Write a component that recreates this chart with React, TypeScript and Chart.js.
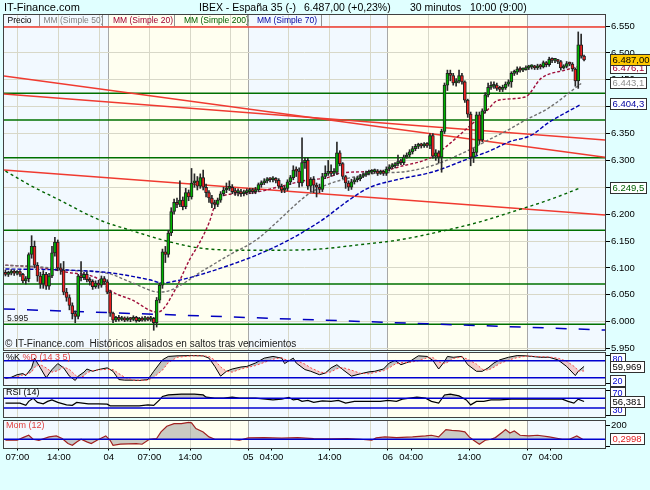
import React, { useEffect, useRef } from "react";
import { Chart, registerables } from "chart.js";

Chart.register(...registerables);

// ---------------- data ----------------
// 30-minute candles: [open, high, low, close]
const ohlc: number[][] = [
  [6092, 6096, 6085, 6088], [6088, 6094, 6084, 6090], [6090, 6097, 6087, 6094], [6094, 6096, 6086, 6090],
  [6090, 6095, 6087, 6093], [6093, 6095, 6084, 6088], [6088, 6090, 6072, 6076], [6076, 6084, 6070, 6080],
  [6080, 6128, 6074, 6125], [6125, 6160, 6118, 6140], [6140, 6150, 6100, 6105], [6105, 6110, 6075, 6085],
  [6085, 6092, 6062, 6070], [6070, 6095, 6062, 6088], [6088, 6092, 6060, 6066], [6066, 6090, 6060, 6085],
  [6085, 6140, 6082, 6128], [6128, 6157, 6122, 6148], [6148, 6152, 6095, 6100], [6100, 6108, 6088, 6096],
  [6096, 6112, 6050, 6055], [6055, 6062, 6038, 6045], [6045, 6050, 6022, 6030], [6030, 6035, 6005, 6015],
  [6015, 6020, 5998, 6010], [6010, 6088, 6005, 6085], [6085, 6112, 6076, 6082], [6082, 6092, 6078, 6088],
  [6088, 6092, 6074, 6078], [6078, 6082, 6068, 6075], [6075, 6078, 6060, 6065], [6065, 6076, 6062, 6072],
  [6072, 6077, 6062, 6068], [6068, 6085, 6064, 6080], [6080, 6084, 6070, 6074], [6074, 6078, 6052, 6055],
  [6055, 6058, 6010, 6016], [6016, 6018, 5998, 6003], [6003, 6010, 6000, 6008], [6008, 6012, 6001, 6004],
  [6004, 6010, 6002, 6007], [6007, 6009, 6000, 6003], [6003, 6009, 6001, 6006], [6006, 6008, 6000, 6004],
  [6004, 6011, 6002, 6008], [6008, 6010, 5999, 6002], [6002, 6008, 6000, 6006], [6006, 6009, 6001, 6003],
  [6003, 6010, 6001, 6007], [6007, 6009, 6002, 6004], [6004, 6010, 6001, 6006], [6006, 6008, 5984, 5998],
  [5998, 6045, 5990, 6040], [6040, 6072, 6035, 6068], [6068, 6135, 6062, 6130], [6130, 6140, 6110, 6125],
  [6125, 6170, 6120, 6165], [6165, 6212, 6160, 6205], [6205, 6228, 6200, 6222], [6222, 6230, 6212, 6218],
  [6218, 6262, 6214, 6226], [6226, 6232, 6208, 6214], [6214, 6248, 6210, 6240], [6240, 6245, 6225, 6232],
  [6232, 6285, 6228, 6258], [6258, 6275, 6250, 6262], [6262, 6270, 6245, 6252], [6252, 6275, 6248, 6268],
  [6268, 6282, 6245, 6250], [6250, 6256, 6232, 6240], [6240, 6244, 6222, 6230], [6230, 6235, 6212, 6220],
  [6220, 6226, 6210, 6218], [6218, 6230, 6214, 6226], [6226, 6242, 6222, 6238], [6238, 6250, 6234, 6245],
  [6245, 6258, 6240, 6248], [6248, 6262, 6244, 6250], [6250, 6255, 6238, 6242], [6242, 6248, 6235, 6240],
  [6240, 6247, 6234, 6242], [6242, 6246, 6233, 6238], [6238, 6245, 6234, 6240], [6240, 6247, 6236, 6242],
  [6242, 6248, 6238, 6244], [6244, 6248, 6238, 6242], [6242, 6250, 6238, 6245], [6245, 6258, 6242, 6255],
  [6255, 6262, 6250, 6258], [6258, 6266, 6255, 6262], [6262, 6268, 6258, 6265], [6265, 6268, 6260, 6264],
  [6264, 6270, 6260, 6266], [6266, 6268, 6258, 6263], [6263, 6266, 6248, 6252], [6252, 6256, 6240, 6245],
  [6245, 6252, 6240, 6248], [6248, 6264, 6244, 6260], [6260, 6272, 6255, 6268], [6268, 6290, 6264, 6282],
  [6282, 6288, 6270, 6280], [6280, 6286, 6250, 6258], [6258, 6342, 6252, 6296], [6296, 6305, 6285, 6300],
  [6300, 6305, 6246, 6252], [6252, 6268, 6242, 6265], [6265, 6270, 6240, 6254], [6254, 6258, 6232, 6250],
  [6250, 6256, 6240, 6246], [6246, 6276, 6242, 6270], [6270, 6290, 6266, 6276], [6276, 6300, 6272, 6278],
  [6278, 6292, 6270, 6276], [6276, 6285, 6272, 6278], [6278, 6334, 6274, 6314], [6314, 6318, 6290, 6294],
  [6294, 6296, 6266, 6270], [6270, 6272, 6248, 6258], [6258, 6262, 6244, 6250], [6250, 6265, 6246, 6260],
  [6260, 6268, 6256, 6264], [6264, 6270, 6260, 6266], [6266, 6274, 6262, 6270], [6270, 6277, 6268, 6273],
  [6273, 6280, 6270, 6276], [6276, 6282, 6273, 6278], [6278, 6283, 6275, 6279], [6279, 6284, 6276, 6280],
  [6280, 6283, 6272, 6276], [6276, 6282, 6274, 6278], [6278, 6282, 6272, 6276], [6276, 6288, 6272, 6284],
  [6284, 6292, 6280, 6288], [6288, 6294, 6285, 6290], [6290, 6296, 6286, 6294], [6294, 6310, 6290, 6298],
  [6298, 6302, 6292, 6296], [6296, 6310, 6292, 6306], [6306, 6314, 6304, 6310], [6310, 6320, 6306, 6316],
  [6316, 6326, 6312, 6322], [6322, 6330, 6318, 6326], [6326, 6332, 6322, 6328], [6328, 6332, 6323, 6327],
  [6327, 6333, 6324, 6329], [6329, 6333, 6324, 6328], [6328, 6350, 6322, 6346], [6346, 6350, 6304, 6308],
  [6308, 6320, 6300, 6314], [6314, 6318, 6295, 6306], [6306, 6358, 6278, 6354], [6354, 6444, 6350, 6440],
  [6440, 6468, 6430, 6462], [6462, 6468, 6448, 6458], [6458, 6462, 6440, 6444], [6444, 6452, 6438, 6448],
  [6448, 6468, 6444, 6458], [6458, 6462, 6442, 6446], [6446, 6448, 6408, 6412], [6412, 6414, 6380, 6386],
  [6386, 6390, 6290, 6306], [6306, 6322, 6296, 6315], [6315, 6390, 6310, 6385], [6385, 6390, 6330, 6338],
  [6338, 6396, 6335, 6392], [6392, 6426, 6388, 6422], [6422, 6444, 6418, 6436], [6436, 6446, 6432, 6438],
  [6438, 6446, 6434, 6440], [6440, 6444, 6430, 6434], [6434, 6438, 6428, 6432], [6432, 6440, 6428, 6435],
  [6435, 6446, 6432, 6442], [6442, 6450, 6438, 6446], [6446, 6465, 6436, 6462], [6462, 6468, 6458, 6464],
  [6464, 6474, 6460, 6470], [6470, 6474, 6464, 6468], [6468, 6472, 6465, 6469], [6469, 6476, 6468, 6472],
  [6472, 6477, 6469, 6474], [6474, 6478, 6470, 6474], [6474, 6477, 6469, 6472], [6472, 6479, 6469, 6476],
  [6476, 6479, 6470, 6474], [6474, 6485, 6472, 6482], [6482, 6484, 6474, 6478], [6478, 6492, 6475, 6488],
  [6488, 6491, 6482, 6486], [6486, 6489, 6482, 6486], [6486, 6488, 6480, 6484], [6484, 6486, 6468, 6472],
  [6472, 6478, 6470, 6475], [6475, 6484, 6472, 6480], [6480, 6483, 6476, 6479], [6479, 6482, 6466, 6470],
  [6470, 6472, 6438, 6448], [6448, 6539, 6434, 6515], [6515, 6535, 6490, 6494], [6494, 6496, 6485, 6487],
];

// moving averages (x = candle index)
const ma50Idx = [0, 11.8, 21.1, 35.8, 43.7, 53, 57.1, 61.5, 66.7, 70.1, 77, 86.2, 94.1, 99.2, 104.4, 110.2, 118.1, 129.4, 135.3, 146.6, 158.2, 166.1, 173, 178.8, 186.7, 198];
const ma50 = [6105, 6102, 6096, 6089, 6072, 6055, 6059, 6072, 6091, 6102, 6124, 6152, 6189, 6215, 6238, 6254, 6267, 6277, 6278, 6290, 6316, 6338, 6357, 6375, 6397, 6443.1];
const ma20Idx = [0, 9.4, 21.1, 32.4, 35.8, 43.7, 52, 54, 58.8, 63.3, 66.7, 70.1, 72.5, 76, 83.8, 94.1, 104.4, 110.2, 115.7, 129.4, 135.3, 146.6, 151.4, 158.2, 165.1, 169.5, 178.8, 184.3, 192.5, 198];
const ma20 = [6105, 6102, 6092, 6078, 6059, 6040, 6018, 6022, 6064, 6115, 6146, 6185, 6223, 6236, 6239, 6251, 6264, 6267, 6277, 6280, 6288, 6306, 6325, 6357, 6390, 6412, 6418, 6453, 6468, 6476.1];
const ma200Idx = [0, 8.4, 18.7, 32.4, 43.7, 55.4, 66.7, 80.4, 94.1, 107.8, 121.5, 135.3, 149, 162.7, 176.4, 186.7, 198];
const ma200 = [6280, 6254, 6226, 6189, 6169, 6150, 6137, 6133, 6133, 6135, 6143, 6152, 6167, 6185, 6208, 6226, 6249.5];
const ma70Idx = [0, 21.1, 35.8, 49.5, 54, 58.8, 66.7, 77, 87.3, 97.5, 108.9, 118.1, 125, 135.3, 146.6, 158.2, 167.1, 173, 180.9, 186.7, 198];
const ma70 = [6098, 6096, 6091, 6078, 6072, 6076, 6087, 6105, 6126, 6152, 6189, 6226, 6249, 6265, 6278, 6301, 6319, 6334, 6347, 6370, 6404.3];

// horizontal levels and trend lines (start value, end value)
const levels = [6425, 6375, 6305, 6170, 6070, 5995];
const trendStart = [6548, 6457, 6423.5, 6282];
const trendEnd = [6548, 6306, 6338, 6198.5];
const guideLine = [6023.6, 5984.5];

// stochastic %K / %D
const stochIdx = [0, 2, 4, 6, 7, 9, 10, 12, 14, 16, 18, 20, 22, 24, 25, 27, 28, 30, 32, 35, 37, 39, 41, 44, 46, 49, 51, 54, 56, 59, 64, 68, 70, 72, 74, 76, 78, 81, 83, 86, 89, 92, 95, 96, 98, 99, 100, 103, 105, 108, 110, 112, 114, 116, 119, 122, 125, 127, 130, 132, 134, 136, 139, 142, 145, 147, 149, 151, 152, 154, 157, 159, 162, 164, 166, 168, 170, 173, 176, 179, 181, 184, 187, 190, 193, 196, 197, 199];
const stochK = [18, 22, 31, 35, 28, 55, 89, 55, 20, 49, 70, 55, 26, 11, 26, 40, 51, 43, 49, 55, 43, 14, 12, 12, 11, 14, 43, 83, 95, 97, 98, 97, 89, 60, 26, 43, 51, 58, 60, 72, 89, 95, 89, 70, 83, 89, 72, 49, 43, 31, 37, 55, 66, 49, 26, 34, 41, 43, 51, 72, 81, 66, 77, 97, 95, 81, 51, 77, 95, 92, 95, 66, 43, 43, 55, 72, 83, 92, 98, 97, 95, 92, 92, 83, 60, 28, 43, 59.969];
const stochD = [20, 20, 24, 30, 32, 40, 57, 66, 55, 40, 45, 58, 50, 30, 21, 26, 38, 45, 48, 50, 49, 35, 22, 12, 12, 12, 22, 47, 73, 92, 97, 97, 95, 82, 58, 43, 40, 51, 56, 63, 74, 85, 91, 85, 80, 81, 81, 68, 55, 41, 37, 41, 52, 56, 47, 36, 34, 39, 45, 55, 68, 73, 74, 80, 90, 91, 76, 70, 74, 88, 93, 85, 68, 50, 47, 57, 70, 82, 91, 96, 96, 94, 93, 89, 78, 57, 44, 44];

// RSI (14)
const rsiIdx = [0, 5, 7, 8, 9.5, 11, 13, 14.5, 16, 18, 21, 23, 24.5, 26.5, 28.5, 32, 35, 36, 39, 46, 49, 51, 53, 54, 56, 60.5, 65, 68, 69, 72, 75, 78, 80.5, 86, 92, 95, 97.5, 99, 100.5, 102, 104, 106, 109, 112, 114.5, 117, 120, 124.5, 129, 131.5, 134.5, 136.5, 139, 141.5, 144.5, 146.5, 149, 151, 153, 156, 158.5, 160, 162, 164.5, 167, 170, 174, 178.5, 183, 187, 191.5, 193.5, 195.5, 197, 199];
const rsi = [50, 50, 41, 57, 70, 53, 47, 57, 63, 53, 43, 41, 53, 50, 47, 47, 46, 39, 39, 39, 43, 41, 63, 77, 83, 86, 86, 83, 74, 70, 70, 74, 70, 70, 63, 66, 73, 63, 66, 57, 61, 53, 59, 57, 61, 50, 57, 57, 57, 61, 57, 66, 70, 74, 70, 57, 50, 83, 86, 79, 63, 43, 57, 57, 63, 63, 66, 66, 66, 66, 66, 57, 50, 66, 56.381];

// Momentum (12)
const momIdx = [0, 4, 6, 8, 9.5, 11.5, 15, 17.5, 19.5, 21.5, 23, 24.5, 26, 28, 29.5, 31.5, 34.5, 36, 37, 39.5, 45, 47, 49.5, 52, 53.5, 55.5, 58, 60.5, 63, 64, 65.5, 68, 70, 72, 75, 77.5, 80.5, 83.5, 89, 95, 100.5, 106, 112, 117.5, 122, 126, 127.5, 130.5, 134.5, 140, 144.5, 146.5, 149, 151.5, 153.5, 156, 158, 159.5, 161, 163, 165, 167, 168.5, 171, 172, 173.5, 175, 177, 180, 183, 187, 191.5, 194, 196.5, 198.5];
const mom = [-15, -15, 24, 58, 0, -15, 34, 49, 10, -63, -88, -39, 0, -39, -63, -15, 49, -15, -88, -73, -63, -73, 0, 10, 107, 190, 229, 229, 248, 239, 156, 107, 34, 0, 0, 0, -15, 19, 24, 15, 24, 10, 5, 10, 0, -15, 19, 34, 24, 34, 49, 58, 34, 141, 131, 122, 107, 34, -15, -73, -15, 0, 24, 107, 141, 92, 122, 58, 49, 58, 34, 0, 0, 49, 0.2998];

// axes
const priceTicks = [5950, 5975, 6000, 6025, 6050, 6075, 6100, 6125, 6150, 6175, 6200, 6225, 6250, 6275, 6300, 6325, 6350, 6375, 6400, 6425, 6450, 6475, 6500, 6525, 6550];
const dayBounds = [35.5, 83.5, 131.5, 179.5];
const gridTicks = [4.1, 18.4, 32.4, 49.5, 63.5, 77.5, 97.5, 111.5, 125.5, 145.5, 159.5, 173.5, 193.5];
const labelTicks = [4.1, 18.4, 35.5, 49.5, 63.5, 83.5, 91.5, 111.5, 131.5, 139.5, 159.5, 179.5, 187.5];
const labelTexts = ["07:00", "14:00", "04", "07:00", "14:00", "05", "04:00", "14:00", "06", "04:00", "14:00", "07", "04:00"];

// ---------------- styling ----------------
const W = 650, H = 490;
const X_MIN = -0.5, X_MAX = 206.2;
const FONT = "'Liberation Sans', Arial, sans-serif";
const BG_PAGE = "#e0ffff";
const BG_BLUE = "#f2f9ff";
const BG_YELLOW = "#fffff0";
const GRID = "#d8d8c8";
const DAYLINE = "#a8a8a8";
const NONE = "rgba(0,0,0,0)";

const isIn = (arr: number[], v: number) => arr.some((a) => Math.abs(a - v) < 1e-6);
const allXTicks = Array.from(new Set([...gridTicks, ...dayBounds, ...labelTicks])).sort((a, b) => a - b);

function fmt(v: number, d: number) {
  const [ip, dp] = v.toFixed(d).split(".");
  const neg = ip.startsWith("-");
  let s = neg ? ip.slice(1) : ip;
  s = s.replace(/\B(?=(\d{3})+(?!\d))/g, ".");
  return (neg ? "-" : "") + s + (dp !== undefined ? "," + dp : "");
}

const pts = (xs: number[], ys: number[]) => xs.map((x, k) => ({ x, y: ys[k] }));

function xAxis(withLabels: boolean, height: number) {
  return {
    type: "linear",
    min: X_MIN,
    max: X_MAX,
    offset: false,
    afterBuildTicks: (s: any) => {
      s.ticks = allXTicks.map((v) => ({ value: v }));
    },
    afterFit: (s: any) => {
      s.height = height;
    },
    grid: {
      offset: false,
      drawTicks: withLabels,
      tickLength: 3,
      lineWidth: 1,
      color: (c: any) => {
        const v = c.tick ? c.tick.value : NaN;
        if (isIn(dayBounds, v)) return DAYLINE;
        if (isIn(gridTicks, v)) return GRID;
        return NONE;
      },
      tickColor: (c: any) => (c.tick && isIn(labelTicks, c.tick.value) ? "#000" : NONE),
    },
    border: { display: false },
    ticks: {
      display: withLabels,
      autoSkip: false,
      maxRotation: 0,
      minRotation: 0,
      padding: 1,
      color: "#000",
      font: { family: FONT, size: 9.5 },
      callback: (v: number) => {
        const k = labelTicks.findIndex((t) => Math.abs(t - v) < 1e-6);
        return k >= 0 ? labelTexts[k] : "";
      },
    },
  };
}

function subYAxis(min: number, max: number, tickVals: number[], labeled: number[]) {
  return {
    type: "linear",
    position: "right",
    min,
    max,
    afterBuildTicks: (s: any) => {
      s.ticks = tickVals.map((v) => ({ value: v }));
    },
    afterFit: (s: any) => {
      s.width = 45;
    },
    grid: { drawOnChartArea: false, drawTicks: true, tickLength: 5, tickColor: "#000" },
    border: { display: true, color: "#000" },
    ticks: {
      padding: 1,
      color: "#000",
      font: { family: FONT, size: 9.5 },
      callback: (v: number) => (isIn(labeled, v) ? String(v) : ""),
    },
  };
}

const panelPlugin = {
  id: "panel",
  beforeDraw(chart: any) {
    const { ctx, chartArea: a, scales } = chart;
    const x = scales.x;
    const edges = [X_MIN, ...dayBounds, X_MAX];
    ctx.save();
    for (let k = 0; k < edges.length - 1; k++) {
      const x0 = x.getPixelForValue(edges[k]);
      const x1 = x.getPixelForValue(edges[k + 1]);
      ctx.fillStyle = k % 2 === 0 ? BG_BLUE : BG_YELLOW;
      ctx.fillRect(x0, a.top, x1 - x0, a.bottom - a.top);
    }
    ctx.restore();
  },
  afterDraw(chart: any) {
    const { ctx, chartArea: a } = chart;
    ctx.save();
    ctx.strokeStyle = "#404040";
    ctx.lineWidth = 1;
    ctx.strokeRect(Math.round(a.left) - 0.5, Math.round(a.top) - 0.5, Math.round(a.right - a.left) + 1, Math.round(a.bottom - a.top) + 1);
    ctx.restore();
  },
};

function text(ctx: any, s: string, x: number, y: number, color: string, size: number, align = "left", weight = "normal") {
  ctx.font = `${weight} ${size}px ${FONT}`;
  ctx.fillStyle = color;
  ctx.textAlign = align;
  ctx.textBaseline = "middle";
  ctx.fillText(s, x, y);
}

function valueBox(ctx: any, s: string, x: number, y: number, color: string, bg: string, size = 9.5) {
  ctx.font = `normal ${size}px ${FONT}`;
  const w = Math.ceil(ctx.measureText(s).width) + 5;
  const h = 12;
  const top = Math.round(y - h / 2);
  ctx.fillStyle = bg;
  ctx.fillRect(x, top, w, h);
  ctx.strokeStyle = "#303030";
  ctx.lineWidth = 1;
  ctx.strokeRect(x + 0.5, top + 0.5, w - 1, h - 1);
  text(ctx, s, x + 2.5, top + h / 2 + 0.5, color, size);
}

const last = (a: number[]) => a[a.length - 1];

// ---------------- chart configs ----------------
function baseOptions(padding: any, scales: any) {
  return {
    responsive: false,
    maintainAspectRatio: false,
    animation: false,
    devicePixelRatio: 1,
    events: [],
    layout: { padding },
    plugins: { legend: { display: false }, tooltip: { enabled: false }, title: { display: false } },
    scales,
  };
}

function mainConfig(): any {
  const lineBase = { type: "line", pointRadius: 0, fill: false, order: 5 };
  const datasets: any[] = [];
  levels.forEach((v) =>
    datasets.push({ ...lineBase, data: [{ x: X_MIN, y: v }, { x: X_MAX, y: v }], borderColor: "#007000", borderWidth: 1.5, order: 9 })
  );
  trendStart.forEach((v, k) =>
    datasets.push({ ...lineBase, data: [{ x: X_MIN, y: v }, { x: X_MAX, y: trendEnd[k] }], borderColor: "#f03a30", borderWidth: 1.5, order: 8 })
  );
  datasets.push({ ...lineBase, data: [{ x: X_MIN, y: guideLine[0] }, { x: X_MAX, y: guideLine[1] }], borderColor: "#0000c0", borderWidth: 1.5, borderDash: [11, 12], order: 8 });
  const maStyle = { ...lineBase, borderWidth: 1.4, cubicInterpolationMode: "monotone", order: 4 };
  datasets.push({ ...maStyle, data: pts(ma200Idx, ma200), borderColor: "#006400", borderDash: [3, 3] });
  datasets.push({ ...maStyle, data: pts(ma70Idx, ma70), borderColor: "#0000b0", borderDash: [4, 2] });
  datasets.push({ ...maStyle, data: pts(ma50Idx, ma50), borderColor: "#707070", borderDash: [3, 2] });
  datasets.push({ ...maStyle, data: pts(ma20Idx, ma20), borderColor: "#a0103c", borderDash: [3, 2] });
  datasets.push({
    type: "bar",
    data: ohlc.map((r, i) => ({ x: i, y: [r[2], r[1]] })),
    backgroundColor: "#282828",
    borderWidth: 0,
    barThickness: 1,
    grouped: false,
    order: 2,
  });
  datasets.push({
    type: "bar",
    data: ohlc.map((r, i) => ({ x: i, y: [Math.min(r[0], r[3]), Math.max(r[0], r[3])] })),
    backgroundColor: ohlc.map((r) => (r[3] >= r[0] ? "#00b400" : "#f02020")),
    borderColor: "#202020",
    borderWidth: 1,
    borderSkipped: false,
    barThickness: 3,
    minBarLength: 2,
    grouped: false,
    order: 1,
  });

  const textPlugin = {
    id: "mainText",
    afterDraw(chart: any) {
      const { ctx } = chart;
      const y = chart.scales.y;
      ctx.save();
      // title row
      text(ctx, "IT-Finance.com", 4, 8, "#000", 11);
      text(ctx, "IBEX - España 35 (-)", 199, 8, "#000", 10.5);
      text(ctx, "6.487,00 (+0,23%)", 304, 8, "#000", 10.5);
      text(ctx, "30 minutos", 410, 8, "#000", 10.5);
      text(ctx, "10:00 (9:00)", 470, 8, "#000", 10.5);
      // legend row
      const legend: [string, number, string][] = [
        ["Precio", 7.5, "#000"],
        ["MM (Simple 50)", 43.5, "#808080"],
        ["MM (Simple 20)", 113, "#a00030"],
        ["MM (Simple 200)", 184, "#006000"],
        ["MM (Simple 70)", 257, "#0000a0"],
      ];
      legend.forEach(([s, x, c]) => text(ctx, s, x, 20.5, c, 8.5));
      ctx.strokeStyle = "#909090";
      ctx.lineWidth = 1;
      [39, 101.6, 174, 246.7, 321].forEach((x) => {
        ctx.beginPath();
        ctx.moveTo(Math.round(x) + 0.5, 15);
        ctx.lineTo(Math.round(x) + 0.5, 26);
        ctx.stroke();
      });
      // footnote and level label
      text(ctx, "© IT-Finance.com  Históricos alisados en saltos tras vencimientos", 5, 344, "#202020", 10);
      text(ctx, "5.995", 7, 319, "#202020", 8.5);
      // right value boxes
      valueBox(ctx, fmt(last(ma200), 1), 610, y.getPixelForValue(last(ma200)), "#006000", "#ffffff");
      valueBox(ctx, fmt(last(ma70), 1), 610, y.getPixelForValue(last(ma70)), "#0000a0", "#ffffff");
      valueBox(ctx, fmt(last(ma50), 1), 610, y.getPixelForValue(last(ma50)), "#909090", "#ffffff");
      valueBox(ctx, fmt(last(ma20), 1), 610, y.getPixelForValue(last(ma20)) + 2, "#a00030", "#ffffff");
      const lc = last(ohlc)[3];
      valueBox(ctx, fmt(lc, 2), 610, y.getPixelForValue(lc), "#000", "#ffc800");
      ctx.restore();
    },
  };

  return {
    type: "bar",
    data: { datasets },
    options: baseOptions({ left: 4, top: 15, right: 0, bottom: 140 }, {
      x: xAxis(false, 0),
      y: {
        type: "linear",
        position: "right",
        min: 5947.3,
        max: 6570.5,
        afterBuildTicks: (s: any) => {
          s.ticks = priceTicks.map((v) => ({ value: v }));
        },
        afterFit: (s: any) => {
          s.width = 45;
        },
        grid: {
          color: GRID,
          drawTicks: true,
          tickLength: 5,
          tickColor: (c: any) => (c.tick && c.tick.value % 50 === 0 ? "#000" : NONE),
        },
        border: { display: true, color: "#000" },
        ticks: {
          padding: 1,
          color: "#000",
          font: { family: FONT, size: 9.5 },
          callback: (v: number) => (v % 50 === 0 ? (v / 1000).toFixed(3) : ""),
        },
      },
    }),
    plugins: [panelPlugin, textPlugin],
  };
}

function stochConfig(): any {
  const lb = { pointRadius: 0 };
  return {
    type: "line",
    data: {
      datasets: [
        { ...lb, data: [{ x: X_MIN, y: 80 }, { x: X_MAX, y: 80 }], borderColor: "#0000d0", borderWidth: 1.5, fill: false },
        { ...lb, data: [{ x: X_MIN, y: 20 }, { x: X_MAX, y: 20 }], borderColor: "#0000d0", borderWidth: 1.5, fill: false },
        { ...lb, data: pts(stochIdx, stochD), borderColor: "#ff4a4a", borderWidth: 1, borderDash: [2, 2], fill: false },
        {
          ...lb,
          data: pts(stochIdx, stochK),
          borderColor: "#000",
          borderWidth: 1,
          fill: { target: "-1", above: "rgba(140,140,140,0.5)", below: "rgba(235,160,160,0.5)" },
        },
      ],
    },
    options: baseOptions({ left: 4, top: 353, right: 0, bottom: 105 }, {
      x: xAxis(false, 0),
      y: subYAxis(-5, 107, [0, 100], []),
    }),
    plugins: [
      panelPlugin,
      {
        id: "stochText",
        afterDraw(chart: any) {
          const { ctx } = chart;
          const y = chart.scales.y;
          ctx.save();
          text(ctx, "%K", 6, 358, "#000", 9);
          text(ctx, "%D (14 3 5)", 22.5, 358, "#e04040", 9);
          valueBox(ctx, "80", 610, 358.5, "#0000d0", "#ffffff", 9);
          valueBox(ctx, "20", 610, 380.5, "#0000d0", "#ffffff", 9);
          valueBox(ctx, fmt(last(stochK), 3), 610, y.getPixelForValue(last(stochK)) + 1, "#000", "#ffffff");
          ctx.restore();
        },
      },
    ],
  };
}

function rsiConfig(): any {
  const lb = { pointRadius: 0 };
  return {
    type: "line",
    data: {
      datasets: [
        { ...lb, data: [{ x: X_MIN, y: 70 }, { x: X_MAX, y: 70 }], borderColor: "#0000d0", borderWidth: 1.5, fill: false },
        { ...lb, data: [{ x: X_MIN, y: 30 }, { x: X_MAX, y: 30 }], borderColor: "#0000d0", borderWidth: 1.5, fill: false },
        {
          ...lb,
          data: pts(rsiIdx, rsi),
          borderColor: "#000",
          borderWidth: 1.2,
          fill: { target: { value: 70 }, above: "rgba(140,140,140,0.5)", below: NONE },
        },
      ],
    },
    options: baseOptions({ left: 4, top: 389, right: 0, bottom: 73 }, {
      x: xAxis(false, 0),
      y: subYAxis(-6, 107, [0, 100], []),
    }),
    plugins: [
      panelPlugin,
      {
        id: "rsiText",
        afterDraw(chart: any) {
          const { ctx } = chart;
          const y = chart.scales.y;
          ctx.save();
          text(ctx, "RSI (14)", 6, 392.5, "#000", 9);
          valueBox(ctx, "70", 610, 393, "#0000d0", "#ffffff", 9);
          valueBox(ctx, "30", 610, 409.5, "#0000d0", "#ffffff", 9);
          valueBox(ctx, fmt(last(rsi), 3), 610, y.getPixelForValue(last(rsi)), "#000", "#ffffff");
          ctx.restore();
        },
      },
    ],
  };
}

function momConfig(): any {
  const lb = { pointRadius: 0 };
  return {
    type: "line",
    data: {
      datasets: [
        { ...lb, data: [{ x: X_MIN, y: 0 }, { x: X_MAX, y: 0 }], borderColor: "#0000d0", borderWidth: 1.5, fill: false },
        {
          ...lb,
          data: pts(momIdx, mom),
          borderColor: "#a02020",
          borderWidth: 1.2,
          fill: { target: { value: 0 }, above: "rgba(140,140,140,0.45)", below: "rgba(140,140,140,0.45)" },
        },
      ],
    },
    options: baseOptions({ left: 4, top: 421, right: 0, bottom: 0 }, {
      x: xAxis(true, 42.5),
      y: subYAxis(-121, 267, [-100, 200], [200]),
    }),
    plugins: [
      panelPlugin,
      {
        id: "momText",
        afterDraw(chart: any) {
          const { ctx } = chart;
          const y = chart.scales.y;
          ctx.save();
          text(ctx, "Mom (12)", 6, 426, "#e04040", 9);
          valueBox(ctx, fmt(last(mom), 4), 610, y.getPixelForValue(last(mom)), "#e02020", "#ffffff");
          ctx.restore();
        },
      },
    ],
  };
}

export default function App() {
  const r1 = useRef<HTMLCanvasElement>(null);
  const r2 = useRef<HTMLCanvasElement>(null);
  const r3 = useRef<HTMLCanvasElement>(null);
  const r4 = useRef<HTMLCanvasElement>(null);

  useEffect(() => {
    const charts = [
      new Chart(r1.current as HTMLCanvasElement, mainConfig()),
      new Chart(r2.current as HTMLCanvasElement, stochConfig()),
      new Chart(r3.current as HTMLCanvasElement, rsiConfig()),
      new Chart(r4.current as HTMLCanvasElement, momConfig()),
    ];
    return () => charts.forEach((c) => c.destroy());
  }, []);

  const cs: React.CSSProperties = { position: "absolute", left: 0, top: 0, width: W, height: H };
  return (
    <div style={{ position: "fixed", left: 0, top: 0, width: W, height: H, background: BG_PAGE }}>
      <canvas ref={r1} width={W} height={H} style={cs} />
      <canvas ref={r2} width={W} height={H} style={cs} />
      <canvas ref={r3} width={W} height={H} style={cs} />
      <canvas ref={r4} width={W} height={H} style={cs} />
    </div>
  );
}
